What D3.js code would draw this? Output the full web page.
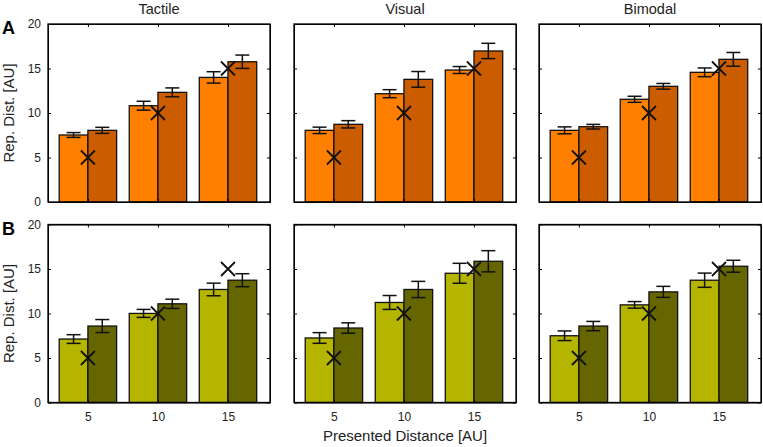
<!DOCTYPE html>
<html lang="en">
<head>
    <meta charset="UTF-8">
    <title>Rep. Dist.</title>
    <script src="https://d3js.org/d3.v7.min.js"></script>
    <style>
    body{ margin: 0; background: #fff; }
    text{ font-family: "Liberation Sans", Arial, sans-serif; fill: #222; }
    .axis path, .axis line{ fill: none; stroke: #000; stroke-width: 1; }
    .axis text{ font-size: 12px; }
    </style>
</head>
<body>
<script>
    // data
    var conditions = ["Tactile", "Visual", "Bimodal"];
    var distances = [5, 10, 15];
    var yTicks = [0, 5, 10, 15, 20];

    // [Tactile, Visual, Bimodal] x [5, 10, 15]
    var rowA_light    = [[7.53, 10.82, 14.00], [8.05, 12.17, 14.83], [8.05, 11.54, 14.57]];
    var rowA_lightErr = [[0.27, 0.50, 0.64],   [0.36, 0.45, 0.39],   [0.39, 0.34, 0.49]];
    var rowA_dark     = [[8.05, 12.32, 15.76], [8.73, 13.78, 16.97], [8.46, 13.00, 16.03]];
    var rowA_darkErr  = [[0.34, 0.50, 0.75],   [0.41, 0.88, 0.86],   [0.26, 0.32, 0.77]];

    var rowB_light    = [[7.13, 10.01, 12.70], [7.25, 11.24, 14.52], [7.50, 10.97, 13.74]];
    var rowB_lightErr = [[0.49, 0.45, 0.71],   [0.60, 0.78, 1.12],   [0.54, 0.37, 0.80]];
    var rowB_dark     = [[8.59, 11.09, 13.74], [8.37, 12.70, 15.87], [8.59, 12.43, 15.31]];
    var rowB_darkErr  = [[0.73, 0.52, 0.73],   [0.58, 0.91, 1.19],   [0.52, 0.62, 0.67]];

    var rows = [
        {label: "A", light: rowA_light, lightErr: rowA_lightErr, dark: rowA_dark, darkErr: rowA_darkErr,
         colors: ["#ff8000", "#cc5c00"]},
        {label: "B", light: rowB_light, lightErr: rowB_lightErr, dark: rowB_dark, darkErr: rowB_darkErr,
         colors: ["#b5b500", "#666600"]}
    ];

    var width = 763, height = 447;
    var panelW = 222, panelH = 178;
    var panelX = [48, 294, 539];
    var panelY = [24, 224.5];

    var svg = d3.select("body").append("svg")
        .attr("width", width)
        .attr("height", height);

    // scales (shared by all panels)
    var x = d3.scaleLinear().domain([0.43, 3.6]).range([0, panelW]);
    var y = d3.scaleLinear().domain([0, 20]).range([panelH, 0]);
    var barW = x(1.41) - x(1);
    var capW = 14, crossR = 7;

    rows.forEach(function(row, r) {
        conditions.forEach(function(cond, c) {
            var g = svg.append("g")
                .attr("transform", "translate(" + panelX[c] + "," + panelY[r] + ")");

            var bars = [];
            distances.forEach(function(d, i) {
                bars.push({i: i, s: 0, v: row.light[c][i], e: row.lightErr[c][i]});
                bars.push({i: i, s: 1, v: row.dark[c][i], e: row.darkErr[c][i]});
            });

            g.selectAll(".bar").data(bars).enter().append("rect")
                .attr("class", "bar")
                .attr("x", function(d) { return x(d.i + 1) - (d.s === 0 ? barW : 0); })
                .attr("y", function(d) { return y(d.v); })
                .attr("width", barW)
                .attr("height", function(d) { return y(0) - y(d.v); })
                .attr("fill", function(d) { return row.colors[d.s]; })
                .attr("stroke", "#111")
                .attr("stroke-width", 1.3);

            // error bars
            var eb = g.selectAll(".err").data(bars).enter().append("g")
                .attr("class", "err")
                .attr("stroke", "#111")
                .attr("stroke-width", 1.5);
            function cx(d) { return x(d.i + 1) + (d.s === 0 ? -barW / 2 : barW / 2); }
            eb.append("line")
                .attr("x1", cx).attr("x2", cx)
                .attr("y1", function(d) { return y(d.v - d.e); })
                .attr("y2", function(d) { return y(d.v + d.e); });
            eb.append("line")
                .attr("x1", function(d) { return cx(d) - capW / 2; })
                .attr("x2", function(d) { return cx(d) + capW / 2; })
                .attr("y1", function(d) { return y(d.v + d.e); })
                .attr("y2", function(d) { return y(d.v + d.e); });
            eb.append("line")
                .attr("x1", function(d) { return cx(d) - capW / 2; })
                .attr("x2", function(d) { return cx(d) + capW / 2; })
                .attr("y1", function(d) { return y(d.v - d.e); })
                .attr("y2", function(d) { return y(d.v - d.e); });

            // presented distance markers
            g.selectAll(".cross").data(distances).enter().append("path")
                .attr("class", "cross")
                .attr("d", function(d, i) {
                    var px = x(i + 1), py = y(d);
                    return "M" + (px - crossR) + "," + (py - crossR) + "L" + (px + crossR) + "," + (py + crossR) +
                           "M" + (px - crossR) + "," + (py + crossR) + "L" + (px + crossR) + "," + (py - crossR);
                })
                .attr("stroke", "#111")
                .attr("stroke-width", 1.8)
                .attr("fill", "none");

            // axes, ticks inward on all sides
            var xVals = distances.map(function(d, i) { return i + 1; });
            var left = d3.axisLeft(y).tickValues(yTicks).tickSize(-3).tickSizeOuter(0).tickPadding(7);
            if (c > 0) left.tickFormat("");
            g.append("g").attr("class", "axis").call(left);

            g.append("g").attr("class", "axis")
                .attr("transform", "translate(" + panelW + ",0)")
                .call(d3.axisRight(y).tickValues(yTicks).tickSize(-3).tickSizeOuter(0).tickFormat(""));

            var bottom = d3.axisBottom(x).tickValues(xVals).tickSize(-3).tickSizeOuter(0).tickPadding(10)
                .tickFormat(function(v) { return distances[v - 1]; });
            if (r === 0) bottom.tickFormat("");
            g.append("g").attr("class", "axis")
                .attr("transform", "translate(0," + panelH + ")")
                .call(bottom);

            g.append("g").attr("class", "axis")
                .call(d3.axisTop(x).tickValues(xVals).tickSize(-3).tickSizeOuter(0).tickFormat(""));

            g.selectAll(".axis text").attr("fill", "#222");

            g.append("rect")
                .attr("width", panelW).attr("height", panelH)
                .attr("fill", "none").attr("stroke", "#000").attr("stroke-width", 1.3);

            if (r === 0) {
                g.append("text")
                    .attr("x", panelW / 2).attr("y", -10)
                    .attr("text-anchor", "middle")
                    .style("font-size", "14.5px")
                    .text(cond);
            }
        });

        svg.append("text")
            .attr("x", 2).attr("y", panelY[r] + 10)
            .style("font-size", "18px").style("font-weight", "bold").style("fill", "#000")
            .text(row.label);

        svg.append("text")
            .attr("transform", "translate(14," + (panelY[r] + panelH / 2) + ") rotate(-90)")
            .attr("text-anchor", "middle")
            .style("font-size", "15px")
            .text("Rep. Dist. [AU]");
    });

    svg.append("text")
        .attr("x", panelX[1] + panelW / 2).attr("y", 441)
        .attr("text-anchor", "middle")
        .style("font-size", "15px")
        .text("Presented Distance [AU]");
</script>
</body>
</html>
